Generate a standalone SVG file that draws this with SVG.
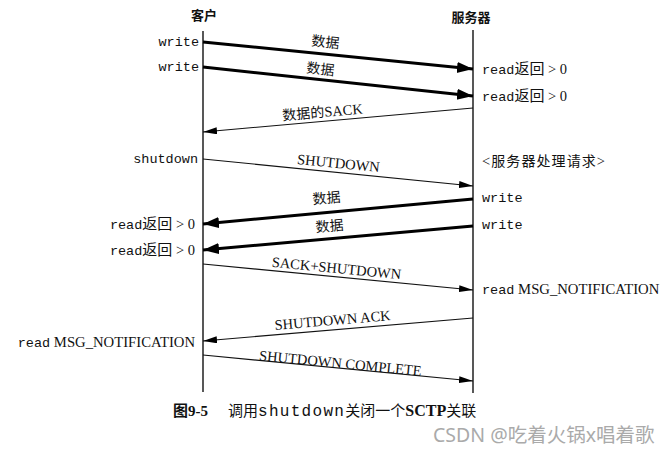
<svg xmlns="http://www.w3.org/2000/svg" width="669" height="454" viewBox="0 0 669 454">
<style>
.life{stroke:#111;stroke-width:1.4;fill:none}
.thick{stroke:#000;stroke-width:3;fill:none}
.thin{stroke:#111;stroke-width:1.1;fill:none}
.mono{font-family:"Liberation Mono","Noto Sans CJK SC",monospace;font-size:13.5px;fill:#111}
.ser{font-family:"Liberation Serif","Noto Sans CJK SC",serif;font-size:14.5px;fill:#111}
.cjk{font-family:"Noto Sans CJK SC","Liberation Serif",serif;font-size:14px;fill:#111}
.cjk15{font-family:"Noto Sans CJK SC","Liberation Serif",serif;font-size:15px;fill:#111}
.title{font-family:"Noto Sans CJK SC",sans-serif;font-size:13px;font-weight:bold;fill:#111}
.lbl{font-family:"Liberation Serif","Noto Sans CJK SC",serif;font-size:14.5px;fill:#111;text-anchor:middle}
.wm{font-family:"Noto Sans","Noto Sans CJK SC",sans-serif;font-size:19.5px;fill:#aaa}
</style>
<defs>
<marker id="hThick" markerUnits="userSpaceOnUse" markerWidth="17" markerHeight="12" refX="16" refY="5.5" orient="auto">
<path d="M0,0 L16,5.5 L0,11 z" fill="#000"/>
</marker>
<marker id="hThin" markerUnits="userSpaceOnUse" markerWidth="15" markerHeight="8" refX="14" refY="3.5" orient="auto">
<path d="M0,0 L14,3.5 L0,7 z" fill="#000"/>
</marker>
</defs>

<g id="client">
<line class="life" x1="203" y1="31" x2="203" y2="392"/>
<text class="title" x="204" y="20" text-anchor="middle">客户</text>
</g>
<g id="server">
<line class="life" x1="473" y1="30" x2="473" y2="393"/>
<text class="title" x="471" y="22" text-anchor="middle">服务器</text>
</g>

<g id="client-labels">
<text class="mono" x="199" y="46" text-anchor="end">write</text>
<text class="mono" x="199" y="71" text-anchor="end">write</text>
<text class="mono" x="198" y="163" text-anchor="end">shutdown</text>
<text x="195" y="229" text-anchor="end"><tspan class="mono">read</tspan><tspan class="cjk15">返回</tspan><tspan class="ser"> &gt; 0</tspan></text>
<text x="195" y="255" text-anchor="end"><tspan class="mono">read</tspan><tspan class="cjk15">返回</tspan><tspan class="ser"> &gt; 0</tspan></text>
<text x="195" y="347" text-anchor="end"><tspan class="mono">read</tspan><tspan class="ser" style="font-size:14.7px"> MSG_NOTIFICATION</tspan></text>
</g>

<g id="server-labels">
<text x="482" y="74"><tspan class="mono">read</tspan><tspan class="cjk15">返回</tspan><tspan class="ser"> &gt; 0</tspan></text>
<text x="482" y="101"><tspan class="mono">read</tspan><tspan class="cjk15">返回</tspan><tspan class="ser"> &gt; 0</tspan></text>
<text x="482" y="166" textLength="123"><tspan class="ser">&lt;</tspan><tspan class="cjk">服务器处理请求</tspan><tspan class="ser">&gt;</tspan></text>
<text class="mono" x="482" y="202">write</text>
<text class="mono" x="482" y="229">write</text>
<text x="482" y="294"><tspan class="mono">read</tspan><tspan class="ser" style="font-size:14.7px"> MSG_NOTIFICATION</tspan></text>
</g>

<g id="connectors">
<line class="thick" x1="203" y1="42" x2="473" y2="69" marker-end="url(#hThick)"/>
<line class="thick" x1="203" y1="67" x2="473" y2="96" marker-end="url(#hThick)"/>
<line class="thin" x1="473" y1="108" x2="203" y2="132" marker-end="url(#hThin)"/>
<line class="thin" x1="203" y1="159" x2="473" y2="186" marker-end="url(#hThin)"/>
<line class="thick" x1="473" y1="199" x2="203" y2="224" marker-end="url(#hThick)"/>
<line class="thick" x1="473" y1="226" x2="203" y2="250" marker-end="url(#hThick)"/>
<line class="thin" x1="203" y1="264" x2="473" y2="290" marker-end="url(#hThin)"/>
<line class="thin" x1="473" y1="318" x2="203" y2="341" marker-end="url(#hThin)"/>
<line class="thin" x1="203" y1="355" x2="473" y2="381" marker-end="url(#hThin)"/>
</g>

<g id="connector-labels">
<text class="lbl" transform="translate(325,47) rotate(5.7)"><tspan class="cjk">数据</tspan></text>
<text class="lbl" transform="translate(320,74) rotate(6)"><tspan class="cjk">数据</tspan></text>
<text class="lbl" transform="translate(323,117) rotate(-5)"><tspan class="cjk">数据的</tspan>SACK</text>
<text class="lbl" transform="translate(338,168) rotate(5.7)">SHUTDOWN</text>
<text class="lbl" transform="translate(327,203) rotate(-5.2)"><tspan class="cjk">数据</tspan></text>
<text class="lbl" transform="translate(330,231) rotate(-5)"><tspan class="cjk">数据</tspan></text>
<text class="lbl" transform="translate(336,273) rotate(5.5)">SACK+SHUTDOWN</text>
<text class="lbl" transform="translate(333,325) rotate(-4.9)">SHUTDOWN ACK</text>
<text class="lbl" transform="translate(340,368) rotate(5.5)">SHUTDOWN COMPLETE</text>
</g>

<g id="caption">
<text x="173" y="416"><tspan class="cjk15" style="font-weight:bold">图</tspan><tspan class="ser" style="font-size:15px;font-weight:bold">9-5</tspan></text>
<text x="228" y="416"><tspan class="cjk15">调用</tspan><tspan class="mono" style="font-size:16px;letter-spacing:1.3px">shutdown</tspan><tspan class="cjk15">关闭一个</tspan><tspan class="ser" style="font-size:16px;font-weight:bold">SCTP</tspan><tspan class="cjk15">关联</tspan></text>
</g>

<text class="wm" x="433" y="442">CSDN @吃着火锅x唱着歌</text>
</svg>
